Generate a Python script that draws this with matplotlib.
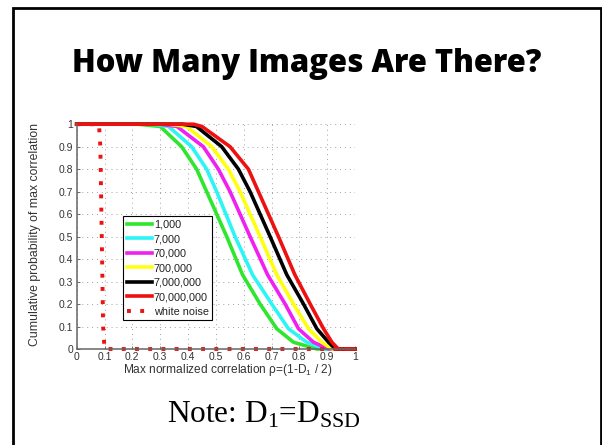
import matplotlib
matplotlib.use("Agg")
import matplotlib.pyplot as plt
from matplotlib.patches import Rectangle
import numpy as np

plt.rcParams['mathtext.fontset'] = 'custom'
plt.rcParams['mathtext.rm'] = 'Liberation Serif'
plt.rcParams['mathtext.sf'] = 'Liberation Sans'

# ---- data ----
y_levels = [1.0, 1.0, 0.99, 0.9, 0.8, 0.7, 0.5, 0.33, 0.2, 0.09, 0.03, 0.0, 0.0]
x_1k    = [0.0, 0.22, 0.30, 0.377, 0.431, 0.467, 0.539, 0.596, 0.659, 0.719, 0.779, 0.863, 1.0]
x_7k    = [0.0, 0.27, 0.33, 0.413, 0.467, 0.503, 0.569, 0.632, 0.701, 0.761, 0.827, 0.893, 1.0]
x_70k   = [0.0, 0.30, 0.36, 0.455, 0.509, 0.551, 0.623, 0.686, 0.749, 0.797, 0.851, 0.905, 1.0]
x_700k  = [0.0, 0.33, 0.395, 0.485, 0.545, 0.587, 0.659, 0.719, 0.779, 0.833, 0.881, 0.917, 1.0]
x_7m    = [0.0, 0.38, 0.43, 0.521, 0.581, 0.623, 0.695, 0.755, 0.815, 0.863, 0.905, 0.930, 1.0]
x_70m   = [0.0, 0.42, 0.45, 0.551, 0.617, 0.653, 0.725, 0.784, 0.839, 0.887, 0.917, 0.940, 1.0]
noise_x = [0.0, 0.080, 0.085, 0.090, 0.095, 0.100, 1.0]
noise_y = [1.0, 1.0, 0.9, 0.5, 0.1, 0.0, 0.0]

labels = ['1,000', '7,000', '70,000', '700,000', '7,000,000', '70,000,000']
series = [x_1k, x_7k, x_70k, x_700k, x_7m, x_70m]
colors = ['#2ee62e', '#2ef5f5', '#f020f0', '#ffff10', '#000000', '#ee1111']
ticks = [0, 0.1, 0.2, 0.3, 0.4, 0.5, 0.6, 0.7, 0.8, 0.9, 1]
tick_labels = ['0', '0.1', '0.2', '0.3', '0.4', '0.5', '0.6', '0.7', '0.8', '0.9', '1']

W, H = 602, 445
fig = plt.figure(figsize=(W / 100, H / 100), dpi=100)
fig.patch.set_facecolor('white')

# slide frame
fig.patches.append(Rectangle((13.3 / W, -0.05), (601 - 13.3) / W, 1.05 - 8 / H,
                             transform=fig.transFigure, fill=False,
                             edgecolor='black', linewidth=2.0))

fig.text(307 / W, 1 - 71.7 / H, 'How Many Images Are There?', ha='center',
         va='baseline', fontsize=22.3, fontweight='heavy', family='Open Sans', color='black')

ax = fig.add_axes([76.7 / W, 1 - 349 / H, (355 - 76.7) / W, (349 - 124.2) / H])
ax.set_xlim(0, 1)
ax.set_ylim(0, 1)
ax.set_xticks(ticks)
ax.set_xticklabels(tick_labels)
ax.set_yticks(ticks)
ax.set_yticklabels(tick_labels)
ax.tick_params(direction='in', length=2, width=0.6, labelsize=7.5,
               colors='#555555', labelcolor='#333333', pad=2.5)
for lab in ax.get_xticklabels() + ax.get_yticklabels():
    lab.set_family('Liberation Sans')
ax.grid(True, color='#a0a0a0', linestyle=(0, (1, 4)), linewidth=0.7)
ax.spines['top'].set_visible(False)
ax.spines['right'].set_visible(False)
for s in ('left', 'bottom'):
    ax.spines[s].set_color('#666666')
    ax.spines[s].set_linewidth(1.1)

handles = []
for xs, c, lab in zip(series, colors, labels):
    h, = ax.plot(xs, y_levels, color=c, linewidth=2.6, label=lab, clip_on=False,
                 solid_joinstyle='round')
    handles.append(h)
hn, = ax.plot(noise_x, noise_y, color='#ee1111', linewidth=2.8,
              linestyle=(0, (1, 2.4)), label='white noise', clip_on=False)
handles.append(hn)

leg = ax.legend(handles=handles, loc='lower left', bbox_to_anchor=(0.168, 0.129),
                borderaxespad=0, fancybox=False, framealpha=1, edgecolor='black',
                prop={'family': 'Liberation Sans', 'size': 7.8},
                handlelength=2.3, handletextpad=0.2, labelspacing=0.42,
                borderpad=0.3)
leg.get_frame().set_linewidth(0.8)
for t in leg.get_texts():
    t.set_color('#222222')

fig.text(228 / W, 1 - 370 / H, r'Max normalized correlation ρ=(1-D$_\mathsf{1}$ / 2)',
         ha='center', va='center', fontsize=8.6, family='Liberation Sans', color='#333333')
fig.text(35 / W, 1 - 235 / H, 'Cumulative probability of max correlation',
         ha='center', va='center', rotation=90, fontsize=8.8,
         family='Liberation Sans', color='#333333')

fig.text(264 / W, 1 - 423 / H, r'Note: D$_\mathrm{1}$=D$_\mathrm{SSD}$',
         ha='center', va='baseline', fontsize=22.5, family='Liberation Serif',
         color='black')

fig.savefig('out.png', dpi=100)
